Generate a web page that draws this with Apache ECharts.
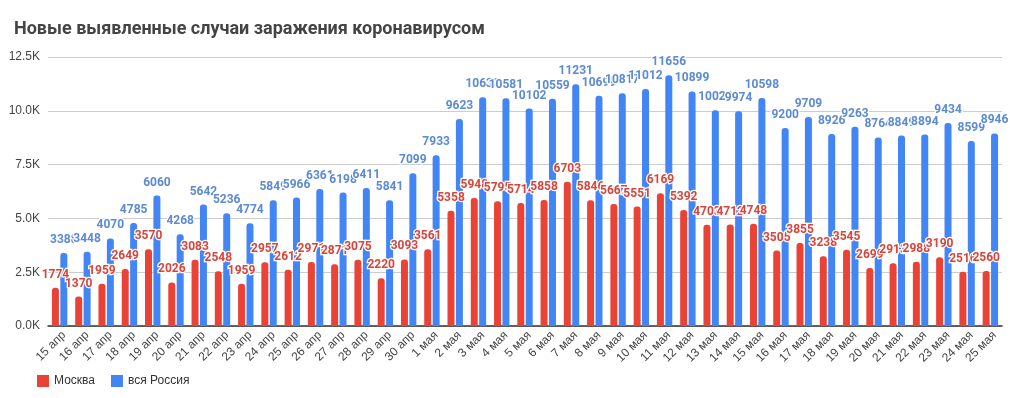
<!DOCTYPE html>
<html><head><meta charset="utf-8">
<script src="https://cdn.jsdelivr.net/npm/echarts@6/dist/echarts.min.js"></script>
<style>html,body{margin:0;padding:0;background:#fff}#c{width:1010px;height:398px}</style>
</head><body><div id="c"></div>
<script>
const categories = ["15 апр","16 апр","17 апр","18 апр","19 апр","20 апр","21 апр","22 апр","23 апр","24 апр","25 апр","26 апр","27 апр","28 апр","29 апр","30 апр","1 мая","2 мая","3 мая","4 мая","5 мая","6 мая","7 мая","8 мая","9 мая","10 мая","11 мая","12 мая","13 мая","14 мая","15 мая","16 мая","17 мая","18 мая","19 мая","20 мая","21 мая","22 мая","23 мая","24 мая","25 мая"];
const moscow = [1774,1370,1959,2649,3570,2026,3083,2548,1959,2957,2612,2971,2871,3075,2220,3093,3561,5358,5948,5795,5714,5858,6703,5846,5667,5551,6169,5392,4703,4712,4748,3505,3855,3238,3545,2699,2913,2988,3190,2516,2560];
const russia = [3388,3448,4070,4785,6060,4268,5642,5236,4774,5849,5966,6361,6198,6411,5841,7099,7933,9623,10633,10581,10102,10559,11231,10699,10817,11012,11656,10899,10028,9974,10598,9200,9709,8926,9263,8764,8849,8894,9434,8599,8946];
const seriesNames = ["Москва","вся Россия"];
const titleText = "Новые выявленные случаи заражения коронавирусом";

const chart = echarts.init(document.getElementById('c'));
const font = 'Roboto, Arial, sans-serif';
const afont = '"Liberation Sans", Arial, sans-serif';
function lbl(color){
  return {show:true,position:'top',distance:7,color:color,fontFamily:font,fontSize:12,fontWeight:'bold',
    textBorderColor:'#fff',textBorderWidth:2.5};
}
chart.setOption({
  animation:false,
  title:{text:titleText,left:9,top:15,textStyle:{fontFamily:font,fontSize:18,fontWeight:'bold',color:'#444'}},
  grid:{left:48,right:8,top:57,bottom:72,containLabel:false},
  legend:{left:32,bottom:6,itemWidth:12,itemHeight:12,itemGap:16,icon:'rect',
    textStyle:{fontFamily:afont,fontSize:12,color:'#333'}},
  xAxis:{type:'category',data:categories,
    axisLine:{lineStyle:{color:'#333',width:1.5}},axisTick:{show:false},
    axisLabel:{rotate:45,interval:0,fontFamily:afont,fontSize:12,color:'#444',margin:3,verticalAlign:'top'}},
  yAxis:{type:'value',min:0,max:12500,interval:2500,
    axisLabel:{fontFamily:afont,fontSize:12,color:'#444',margin:8,formatter:v=>(v/1000).toFixed(1)+'K'},
    splitLine:{lineStyle:{color:'#ccc'}},axisLine:{show:false},axisTick:{show:false}},
  series:[
    {name:seriesNames[0],type:'bar',data:moscow,barWidth:7,barGap:'20%',
     itemStyle:{color:'#ea4335',borderRadius:[3,3,0,0]},label:lbl('#d9443a')},
    {name:seriesNames[1],type:'bar',data:russia,barWidth:7,
     itemStyle:{color:'#4285f4',borderRadius:[3,3,0,0]},label:lbl('#5b8ad6')}
  ]
});
</script></body></html>
